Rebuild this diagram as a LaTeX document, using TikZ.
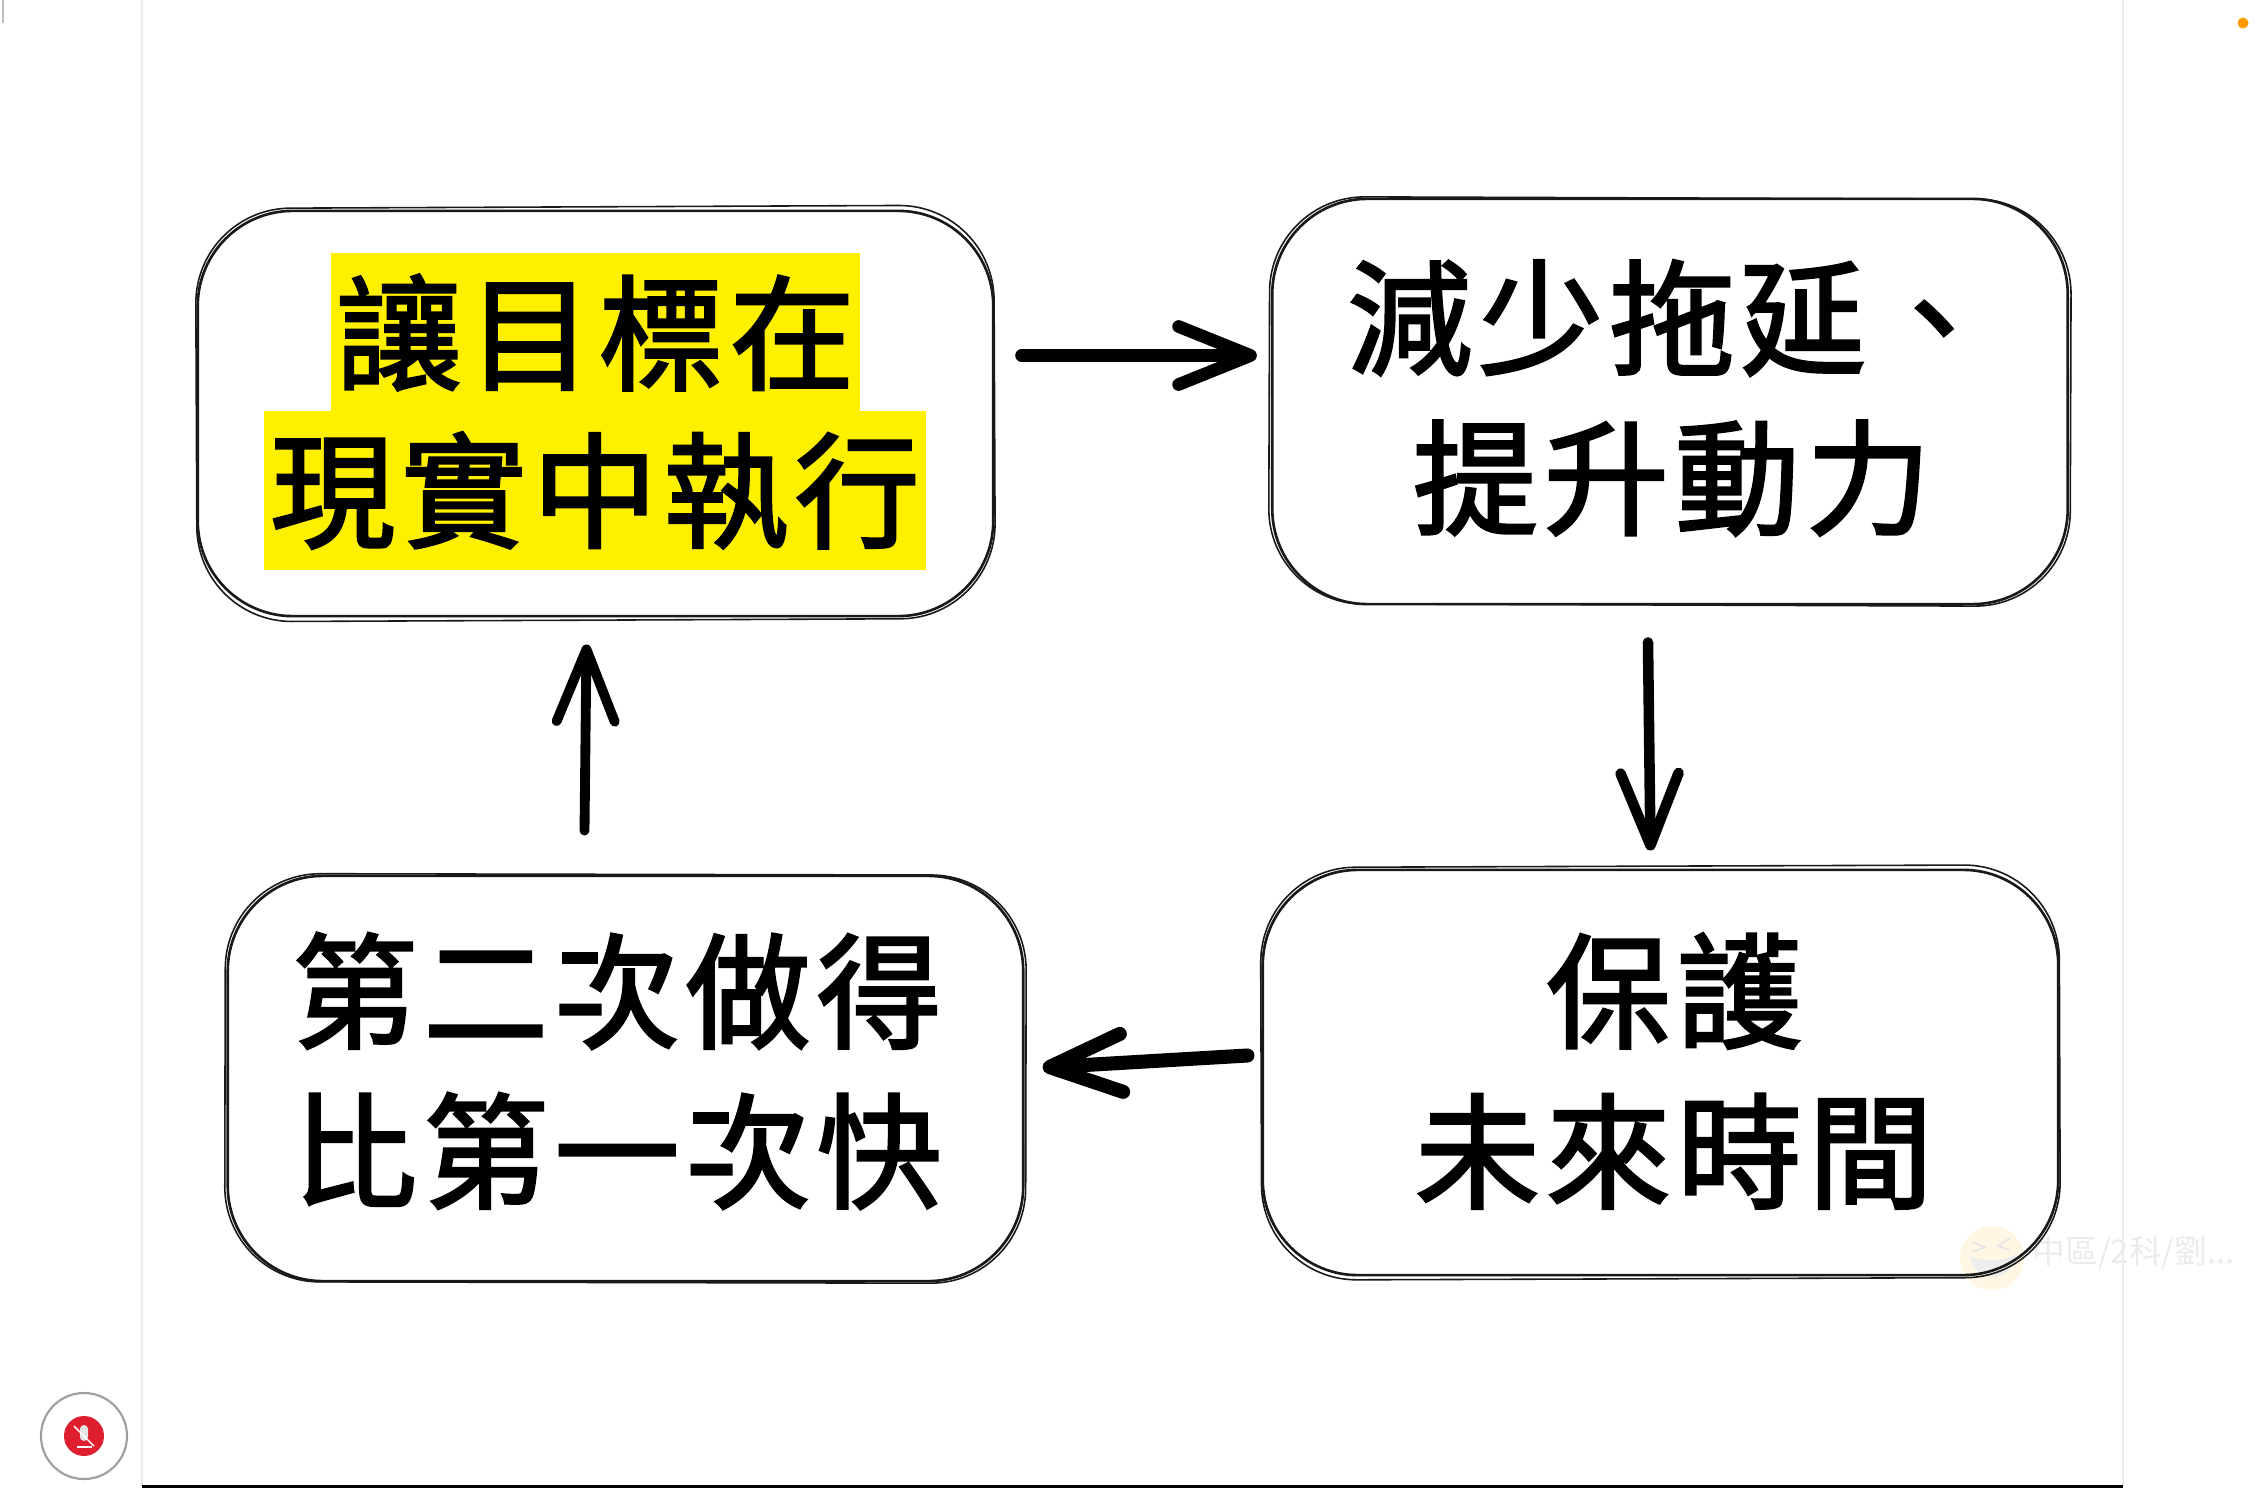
\documentclass[tikz,border=0pt]{standalone}
\usepackage{fontspec}
\usetikzlibrary{arrows.meta}
\newfontfamily\cjk[FakeBold=2.2,LetterSpace=5]{Noto Sans CJK TC}
\newfontfamily\cjkplain{Noto Sans CJK TC}
% second pencil stroke round a box
\newcommand{\sketchoutline}[2]{
  \draw[boxline, line width=0.45pt, rotate around={#2:(#1.center)}] ([shift={(-1,-1)}]#1.north west) rectangle ([shift={(1,1)}]#1.south east);
}
\begin{document}
\begin{tikzpicture}[x=0.01cm,y=-0.01cm,
    boxline/.style ={draw=black!90, line width=0.75pt, rounded corners=0.95cm},
    stepbox/.style ={boxline, rectangle, inner sep=0pt, minimum width=7.95cm, minimum height=4.05cm},
    caption/.style ={font=\cjk\fontsize{35.5}{45.5}\selectfont, align=center, text=black, inner sep=0pt},
    markline/.style ={caption, fill=markyellow, minimum height=1.59cm},
    sketcharrow/.style ={line width=#1, line cap=round, -{Straight Barb[length=7.2mm,width=5.8mm,round]}},
    sketcharrow/.default=3.6pt]
  \definecolor{markyellow}{HTML}{FFF000}
  \definecolor{softgrey}{HTML}{EBEBEB}
  \definecolor{muted}{HTML}{DD1F30}
  \definecolor{facetone}{HTML}{FFF7E3}
  \useasboundingbox (0,0) rectangle (2266,1488);
  % page edges
  \draw[softgrey, line width=0.5pt] (142,0) -- (142,1486);
  \draw[softgrey, line width=0.5pt] (2123,0) -- (2123,1486);
  \draw[black, line width=1pt] (142,1486.5) -- (2123,1486.5);
  \draw[black!25, line width=0.8pt] (3,0) -- (3,23);
  \node[circle, fill=orange!80!yellow, inner sep=0pt, minimum size=0.11cm] (recdot) at (2243,23) {};
  % floating name tag
  \node[circle, fill=facetone, inner sep=0pt, minimum size=0.64cm] (face) at (1992,1258) {};
  \draw[black!10, line width=0.5pt] (1972,1242) -- (1985,1247) -- (1972,1252);
  \draw[black!10, line width=0.5pt] (2010,1238) -- (1998,1246) -- (2010,1250);
  \fill[black!7] (1970,1256) .. controls (1985,1262) and (2000,1262) .. (2017,1254) .. controls (2010,1285) and (1975,1285) .. (1970,1256);
  \node[font=\cjkplain\fontsize{9.3}{10}\selectfont, text=softgrey, inner sep=0pt, anchor=west] (tag) at (2032,1253) {中區/2科/劉...};
  % mute button
  \node[circle, draw=black!38, line width=0.6pt, fill=white, inner sep=0pt, minimum size=0.86cm] (mutering) at (84,1436) {};
  \node[circle, fill=muted, inner sep=0pt, minimum size=0.4cm] (mutedot) at (mutering) {};
  \fill[white!90!black, rounded corners=0.04cm] (80,1425) rectangle (88,1441);
  \draw[white, line width=0.35pt] (77,1447) -- (92,1447);
  \draw[white, line width=0.4pt] (74,1426) -- (94,1446);
  % yellow marked text
  \node[markline, minimum width=5.29cm] (goaltop) at (595.5,332.5) {\raisebox{1.2pt}{讓目標在}};
  \node[markline, minimum width=6.62cm] (goalbottom) at (595,490.5) {\raisebox{0.8pt}{現實中執行}};
  % the four boxes
  \node[stepbox] (goal) at (595.5,413.5) {};
  \node[stepbox] (reduce) at (1670,401.5) {};
  \node[stepbox] (protect) at (1660.5,1072.5) {};
  \node[stepbox] (faster) at (625.5,1078.5) {};
  \sketchoutline{goal}{0.25}
  \sketchoutline{reduce}{-0.2}
  \sketchoutline{protect}{0.2}
  \sketchoutline{faster}{-0.12}
  \node[caption] (reducetext) at (1672,398) {減少拖延、\\提升動力};
  \node[caption] (protecttext) at (1674,1071) {保護\\未來時間};
  \node[caption] (fastertext) at (617,1071) {第二次做得\\比第一次快};
  % arrows round the cycle
  \draw[sketcharrow] ([shift={(27,-58)}]goal.east) -- ([shift={(-14,-46)}]reduce.west);
  \draw[sketcharrow=3pt] ([shift={(-22,37)}]reduce.south) -- ([shift={(-10,-18)}]protect.north);
  \draw[sketcharrow=4pt] ([shift={(-14,-17)}]protect.west) -- ([shift={(18,-11)}]faster.east);
  \draw[sketcharrow=2.8pt] ([shift={(-41,-44)}]faster.north) -- ([shift={(-9,27)}]goal.south);
\end{tikzpicture}
\end{document}
